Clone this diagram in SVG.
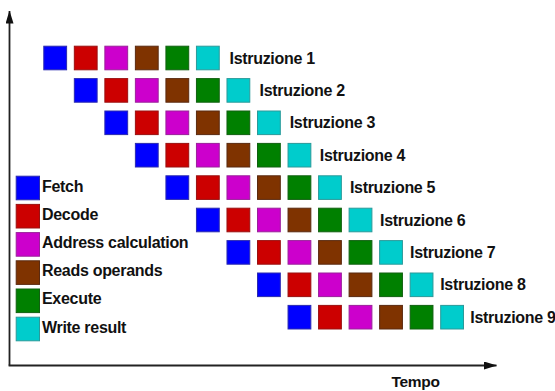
<svg xmlns="http://www.w3.org/2000/svg" width="555" height="391" viewBox="0 0 555 391">
<style>
  text{font-family:"Liberation Sans",Arial,sans-serif;font-weight:bold;font-size:16px;letter-spacing:-0.3px;fill:#111}
  rect.s{stroke-width:1}
  .f{fill:#0000ff;stroke:#2a2ab0}
  .d{fill:#cc0000;stroke:#9a1010}
  .a{fill:#cc00cc;stroke:#9a209a}
  .r{fill:#7f3300;stroke:#5a2a10}
  .e{fill:#008000;stroke:#106010}
  .w{fill:#00cccc;stroke:#2a9a9a}
  .ax{stroke:#222;stroke-width:1.8;fill:none}
</style>
<defs>
  <marker id="ah" viewBox="0 0 13 8" refX="12.5" refY="4" markerWidth="13" markerHeight="8" markerUnits="userSpaceOnUse" orient="auto">
    <path d="M0,0 L13,4 L0,8 Z" fill="#111"/>
  </marker>
  <g id="row">
    <rect class="s f" x="0" y="0" width="22.8" height="23.6"/>
    <rect class="s d" x="30.53" y="0" width="22.8" height="23.6"/>
    <rect class="s a" x="61.06" y="0" width="22.8" height="23.6"/>
    <rect class="s r" x="91.59" y="0" width="22.8" height="23.6"/>
    <rect class="s e" x="122.12" y="0" width="22.8" height="23.6"/>
    <rect class="s w" x="152.65" y="0" width="22.8" height="23.6"/>
  </g>
</defs>
<rect width="555" height="391" fill="#fff"/>
<g id="connectors">
  <path class="ax" d="M9.5,365.5 L9.5,11" marker-end="url(#ah)"/>
  <path class="ax" d="M8.6,365.5 L496.5,365.5" marker-end="url(#ah)"/>
</g>
<g id="istruzione1"><use href="#row" x="43.8" y="46.2"/><text x="229.5" y="63.5">Istruzione 1</text></g>
<g id="istruzione2"><use href="#row" x="74.33" y="78.6"/><text x="259.6" y="95.9">Istruzione 2</text></g>
<g id="istruzione3"><use href="#row" x="104.86" y="111"/><text x="289.7" y="128.3">Istruzione 3</text></g>
<g id="istruzione4"><use href="#row" x="135.39" y="143.4"/><text x="319.8" y="160.7">Istruzione 4</text></g>
<g id="istruzione5"><use href="#row" x="165.92" y="175.8"/><text x="349.9" y="193.1">Istruzione 5</text></g>
<g id="istruzione6"><use href="#row" x="196.45" y="208.2"/><text x="380" y="225.5">Istruzione 6</text></g>
<g id="istruzione7"><use href="#row" x="226.98" y="240.6"/><text x="410.1" y="257.9">Istruzione 7</text></g>
<g id="istruzione8"><use href="#row" x="257.51" y="273"/><text x="440.2" y="290.3">Istruzione 8</text></g>
<g id="istruzione9"><use href="#row" x="288.04" y="305.4"/><text x="470.3" y="322.7">Istruzione 9</text></g>
<g id="legend-fetch"><rect class="s f" x="16.2" y="176.2" width="23.3" height="23.6"/><text x="42" y="191.5">Fetch</text></g>
<g id="legend-decode"><rect class="s d" x="16.2" y="204.4" width="23.3" height="23.6"/><text x="42" y="219.7">Decode</text></g>
<g id="legend-address"><rect class="s a" x="16.2" y="232.6" width="23.3" height="23.6"/><text x="42" y="247.9">Address calculation</text></g>
<g id="legend-reads"><rect class="s r" x="16.2" y="260.8" width="23.3" height="23.6"/><text x="42" y="276.1">Reads operands</text></g>
<g id="legend-execute"><rect class="s e" x="16.2" y="289" width="23.3" height="23.6"/><text x="42" y="304.3">Execute</text></g>
<g id="legend-write"><rect class="s w" x="16.2" y="317.2" width="23.3" height="23.6"/><text x="42" y="332.5">Write result</text></g>
<text x="391.5" y="386.5" style="font-size:15.5px">Tempo</text>
</svg>
